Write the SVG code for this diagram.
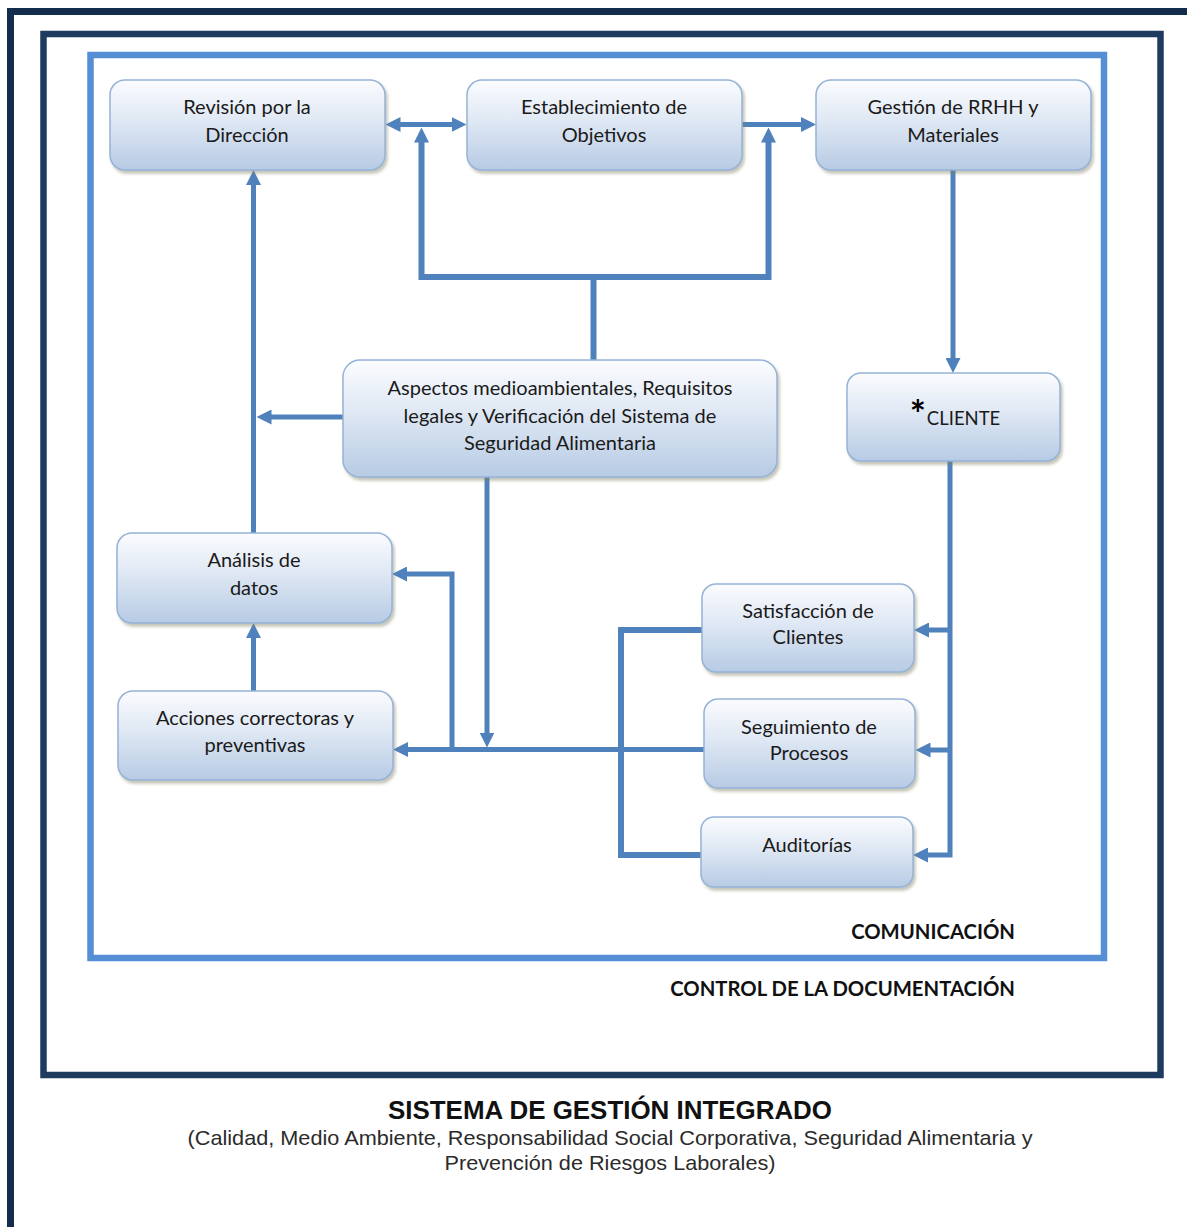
<svg xmlns="http://www.w3.org/2000/svg" width="1187" height="1227" viewBox="0 0 1187 1227">
<defs>
<linearGradient id="ng" x1="0" y1="0" x2="0" y2="1">
<stop offset="0" stop-color="#fbfcfe"/>
<stop offset="0.45" stop-color="#dfe8f4"/>
<stop offset="1" stop-color="#b7cbe4"/>
</linearGradient>
<filter id="sh" x="-10%" y="-10%" width="125%" height="130%">
<feDropShadow dx="2" dy="3" stdDeviation="1.5" flood-color="#7f7f60" flood-opacity="0.45"/>
</filter>
<marker id="ah" viewBox="0 0 10 10" refX="3" refY="5" markerWidth="15" markerHeight="15" markerUnits="userSpaceOnUse" orient="auto-start-reverse">
<path d="M0,0 L10,5 L0,10 z" fill="#4f81bd"/>
</marker>
</defs>
<style>
.frame{fill:none}
.node rect{fill:url(#ng);stroke:#95b3d7;stroke-width:1.5;filter:url(#sh)}
.node text{font-family:Lato,"Open Sans","DejaVu Sans",sans-serif;font-size:20px;fill:#1a1a1a;text-anchor:middle}
.c{fill:none;stroke:#4f81bd;stroke-width:5;stroke-linejoin:miter}
.ct{stroke-width:6}
.lbl{font-family:Lato,"Open Sans","DejaVu Sans",sans-serif;font-weight:bold;font-size:20.3px;fill:#111;text-anchor:end}
.ttl{font-family:"Liberation Sans",Arial,sans-serif;text-anchor:middle}
</style>
<rect width="1187" height="1227" fill="#ffffff"/>
<g id="frames">
<path class="frame" d="M10.5,1227 V11.5 H1187" stroke="#152d4d" stroke-width="7"/>
<rect class="frame" x="43.5" y="34" width="1117" height="1041" stroke="#1f3b60" stroke-width="6.5"/>
<rect class="frame" x="90.5" y="55" width="1013.5" height="903" stroke="#558ed5" stroke-width="6.5"/>
</g>
<g id="connectors">
<path class="c" d="M396,124.5 H456" marker-start="url(#ah)" marker-end="url(#ah)"/>
<path class="c ct" d="M421.5,138 V277 H768.5 V138" marker-start="url(#ah)" marker-end="url(#ah)"/>
<path class="c ct" d="M593.5,360 V277"/>
<path class="c" d="M742,124.5 H805.5" marker-end="url(#ah)"/>
<path class="c" d="M953,170 V362.5" marker-end="url(#ah)"/>
<path class="c" d="M950,461 V855 H923.5" marker-end="url(#ah)"/>
<path class="c" d="M950,630 H924.5" marker-end="url(#ah)"/>
<path class="c" d="M950,750 H926" marker-end="url(#ah)"/>
<path class="c ct" d="M702,630 H621 V855 H702"/>
<path class="c" d="M704,749.5 H403.5" marker-end="url(#ah)"/>
<path class="c" d="M487,477 V737" marker-end="url(#ah)"/>
<path class="c" d="M452,749.5 V574 H402.5" marker-end="url(#ah)"/>
<path class="c" d="M253.5,691 V633.5" marker-end="url(#ah)"/>
<path class="c" d="M253.5,533 V180.5" marker-end="url(#ah)"/>
<path class="c" d="M343,417 H267" marker-end="url(#ah)"/>
</g>
<g id="n-revision" class="node">
<rect x="110" y="80" width="275" height="90" rx="15"/>
<text x="247" y="114">Revisión por la</text>
<text x="247" y="142">Dirección</text>
</g>
<g id="n-objetivos" class="node">
<rect x="467" y="80" width="275" height="90" rx="15"/>
<text x="604" y="114">Establecimiento de</text>
<text x="604" y="142">Objetivos</text>
</g>
<g id="n-rrhh" class="node">
<rect x="816" y="80" width="275" height="90" rx="15"/>
<text x="953" y="114">Gestión de RRHH y</text>
<text x="953" y="142">Materiales</text>
</g>
<g id="n-aspectos" class="node">
<rect x="343" y="360" width="434" height="117" rx="17"/>
<text x="560" y="395">Aspectos medioambientales, Requisitos</text>
<text x="560" y="423">legales y Verificación del Sistema de</text>
<text x="560" y="450">Seguridad Alimentaria</text>
</g>
<g id="n-cliente" class="node">
<rect x="847" y="373" width="213" height="88" rx="14"/>
<text x="955" y="425"><tspan font-size="38" font-weight="bold" fill="#000" dy="3">*</tspan><tspan font-size="18.5" dy="-3" dx="1">CLIENTE</tspan></text>
</g>
<g id="n-analisis" class="node">
<rect x="117" y="533" width="275" height="90" rx="15"/>
<text x="254" y="567">Análisis de</text>
<text x="254" y="595">datos</text>
</g>
<g id="n-acciones" class="node">
<rect x="118" y="691" width="275" height="89" rx="15"/>
<text x="255" y="725">Acciones correctoras y</text>
<text x="255" y="752">preventivas</text>
</g>
<g id="n-satisfaccion" class="node">
<rect x="702" y="584" width="212" height="88" rx="14"/>
<text x="808" y="618">Satisfacción de</text>
<text x="808" y="644">Clientes</text>
</g>
<g id="n-seguimiento" class="node">
<rect x="704" y="699" width="211" height="89" rx="14"/>
<text x="809" y="734">Seguimiento de</text>
<text x="809" y="760">Procesos</text>
</g>
<g id="n-auditorias" class="node">
<rect x="701" y="817" width="212" height="70" rx="13"/>
<text x="807" y="852">Auditorías</text>
</g>
<g id="labels">
<text class="lbl" x="1015" y="939">COMUNICACIÓN</text>
<text class="lbl" x="1015" y="996">CONTROL DE LA DOCUMENTACIÓN</text>
<text class="ttl" x="610" y="1119" font-size="25" font-weight="bold" fill="#111" textLength="444" lengthAdjust="spacingAndGlyphs">SISTEMA DE GESTIÓN INTEGRADO</text>
<text class="ttl" x="610" y="1145" font-size="21" fill="#2b2b2b" textLength="845" lengthAdjust="spacingAndGlyphs">(Calidad, Medio Ambiente, Responsabilidad Social Corporativa, Seguridad Alimentaria y</text>
<text class="ttl" x="610" y="1170" font-size="21" fill="#2b2b2b" textLength="331" lengthAdjust="spacingAndGlyphs">Prevención de Riesgos Laborales)</text>
</g>
</svg>
